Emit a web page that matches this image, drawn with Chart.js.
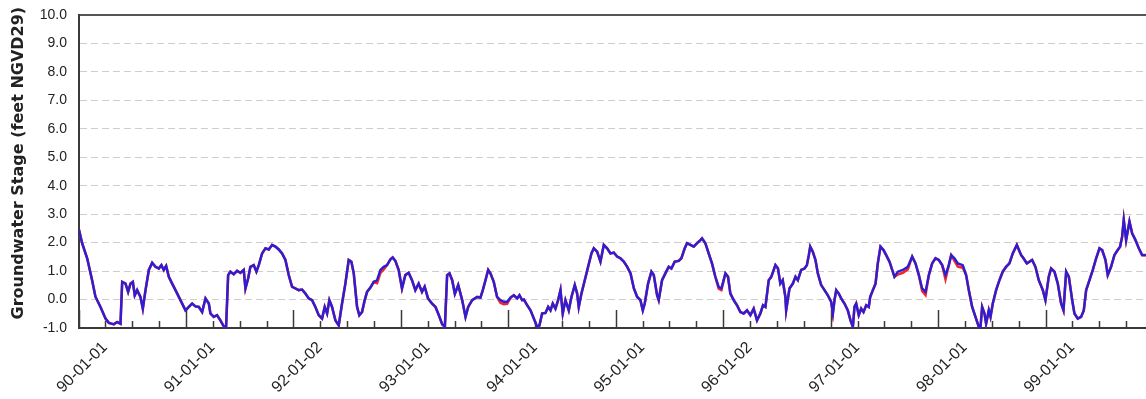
<!DOCTYPE html>
<html><head><meta charset="utf-8">
<script src="https://cdn.jsdelivr.net/npm/chart.js@4.4.1/dist/chart.umd.min.js"></script>
<style>html,body{margin:0;padding:0;background:#fff;overflow:hidden}#wrap{width:1146px;height:399px}</style>
</head><body><div id="wrap"><canvas id="c" width="1146" height="399"></canvas></div>
<script>
const xTickLabels = ['90-01-01','91-01-01','92-01-02','93-01-01','94-01-01','95-01-01','96-01-02','97-01-01','98-01-01','99-01-01'];
const yTickLabels = ['-1.0','0.0','1.0','2.0','3.0','4.0','5.0','6.0','7.0','8.0','9.0','10.0'];
const yAxisTitle = 'Groundwater Stage (feet NGVD29)';

// decimal years
const dates = [
1990.000,1990.029,1990.076,1990.122,1990.153,1990.200,1990.247,1990.278,1990.324,1990.355,
1990.386,1990.402,1990.433,1990.457,1990.479,1990.501,1990.519,1990.541,1990.572,1990.594,
1990.619,1990.650,1990.681,1990.712,1990.743,1990.767,1990.789,1990.811,1990.836,1990.867,
1990.898,1990.944,1990.991,1991.022,1991.053,1991.084,1991.115,1991.146,1991.177,1991.208,
1991.223,1991.254,1991.285,1991.316,1991.347,1991.369,1991.388,1991.409,1991.440,1991.471,
1991.502,1991.533,1991.549,1991.574,1991.595,1991.626,1991.651,1991.673,1991.704,1991.735,
1991.766,1991.797,1991.828,1991.859,1991.890,1991.921,1991.952,1991.983,1992.014,1992.045,
1992.076,1992.107,1992.138,1992.169,1992.200,1992.231,1992.262,1992.287,1992.309,1992.330,
1992.355,1992.386,1992.417,1992.448,1992.479,1992.510,1992.535,1992.557,1992.588,1992.609,
1992.634,1992.659,1992.681,1992.712,1992.743,1992.774,1992.805,1992.836,1992.867,1992.898,
1992.919,1992.944,1992.975,1993.006,1993.037,1993.068,1993.099,1993.130,1993.161,1993.192,
1993.217,1993.248,1993.285,
1993.318,1993.349,1993.380,1993.405,1993.426,1993.448,1993.473,1993.498,1993.529,1993.566,
1993.597,1993.622,1993.659,1993.705,1993.736,1993.758,1993.783,1993.808,1993.829,1993.860,
1993.891,1993.922,1993.953,1993.984,1994.016,1994.047,1994.078,1994.099,1994.124,1994.140,
1994.171,1994.202,1994.233,1994.264,1994.285,1994.310,1994.341,1994.366,1994.388,1994.409,
1994.434,1994.459,1994.481,1994.502,1994.527,1994.558,1994.583,1994.614,1994.636,1994.651,
1994.676,1994.707,1994.738,1994.769,1994.791,1994.822,1994.853,1994.884,1994.915,1994.946,
1994.977,1995.008,1995.039,1995.071,1995.102,1995.133,1995.164,1995.195,1995.225,1995.247,
1995.265,1995.296,1995.327,1995.349,1995.380,1995.395,1995.426,1995.457,1995.488,1995.513,
1995.544,1995.581,1995.606,1995.637,1995.659,1995.690,1995.721,1995.752,1995.783,1995.798,
1995.829,1995.860,1995.891,1995.922,1995.953,1995.978,1996.016,1996.040,1996.062,1996.093,
1996.124,1996.155,1996.186,1996.217,1996.248,1996.279,1996.310,1996.341,1996.366,1996.388,
1996.419,1996.443,1996.481,1996.505,1996.527,1996.549,1996.574,
1996.581,1996.612,1996.643,1996.668,1996.690,1996.721,1996.752,1996.774,1996.792,1996.805,
1996.829,1996.854,1996.876,1996.907,1996.938,1996.969,1997.000,1997.016,1997.031,1997.047,
1997.071,1997.093,1997.124,1997.155,1997.180,1997.202,1997.217,1997.233,1997.257,1997.279,
1997.301,1997.326,1997.350,1997.363,1997.388,1997.413,1997.434,1997.459,1997.487,1997.512,
1997.543,1997.589,1997.620,1997.667,1997.713,1997.754,1997.785,1997.816,1997.847,1997.878,
1997.909,1997.940,1997.971,1998.002,1998.033,1998.064,1998.095,1998.117,1998.148,1998.179,
1998.225,1998.256,1998.281,1998.312,1998.343,1998.374,1998.390,1998.405,1998.427,1998.442,
1998.467,1998.483,1998.504,1998.535,1998.566,1998.597,1998.628,1998.659,1998.690,1998.728,
1998.768,1998.790,1998.821,1998.870,1998.901,1998.932,1998.970,1998.994,1999.025,1999.047,
1999.078,1999.109,1999.140,1999.162,1999.187,1999.212,1999.243,1999.264,1999.295,1999.326,
1999.351,1999.373,1999.404,1999.435,1999.466,1999.497,1999.522,1999.553,1999.574,1999.605,
1999.636,1999.667,1999.689,1999.708,1999.723,1999.745,1999.776,1999.801,1999.832,1999.863,
1999.894,1999.930
];

// blue series (drawn on top)
const stageBlue = [
2.45,1.98,1.45,0.68,0.10,-0.26,-0.67,-0.82,-0.87,-0.79,
-0.85,0.62,0.56,0.27,0.56,0.62,0.15,0.33,0.09,-0.32,
0.33,1.04,1.29,1.15,1.09,1.21,1.04,1.18,0.80,0.56,
0.33,-0.02,-0.38,-0.26,-0.14,-0.24,-0.26,-0.44,0.04,-0.14,
-0.49,-0.61,-0.55,-0.73,-0.94,-0.96,0.86,0.98,0.89,1.01,
0.94,1.04,0.39,0.74,1.15,1.21,0.98,1.21,1.62,1.80,
1.76,1.92,1.86,1.76,1.62,1.39,0.86,0.45,0.39,0.33,
0.35,0.21,0.04,-0.02,-0.26,-0.55,-0.67,-0.26,-0.49,-0.02,
-0.26,-0.73,-0.91,-0.14,0.56,1.39,1.33,0.92,-0.26,-0.55,
-0.44,-0.02,0.27,0.42,0.62,0.68,1.04,1.15,1.21,1.41,
1.48,1.36,1.04,0.39,0.86,0.94,0.68,0.33,0.56,0.27,
0.45,0.04,-0.14,
-0.26,-0.55,-0.87,-0.96,0.86,0.92,0.68,0.20,0.51,-0.02,
-0.61,-0.26,-0.02,0.09,0.07,0.33,0.68,1.04,0.92,0.62,
0.09,-0.02,-0.08,-0.08,0.07,0.15,0.04,0.15,-0.02,0.00,
-0.20,-0.38,-0.67,-0.96,-0.91,-0.49,-0.47,-0.26,-0.38,-0.14,
-0.32,-0.02,0.33,-0.49,-0.02,-0.38,0.09,0.51,0.21,-0.26,
0.21,0.68,1.15,1.62,1.80,1.68,1.33,1.92,1.80,1.62,
1.65,1.51,1.45,1.33,1.15,0.92,0.39,0.09,-0.02,-0.38,
-0.14,0.56,0.98,0.86,0.15,-0.02,0.68,0.92,1.15,1.09,
1.33,1.36,1.45,1.80,1.98,1.92,1.86,1.98,2.09,2.15,
1.98,1.62,1.27,0.80,0.45,0.39,0.92,0.80,0.21,-0.02,
-0.20,-0.44,-0.49,-0.38,-0.55,-0.32,-0.73,-0.49,-0.20,-0.26,
0.68,0.80,1.21,1.09,0.56,0.68,0.09,
-0.38,0.39,0.56,0.80,0.68,1.04,1.09,1.21,1.56,1.86,
1.68,1.39,0.92,0.51,0.33,0.15,-0.08,-0.49,-0.02,0.33,
0.21,0.04,-0.14,-0.38,-0.73,-0.96,-0.26,-0.14,-0.55,-0.32,
-0.44,-0.20,-0.26,0.09,0.33,0.56,1.27,1.86,1.74,1.56,
1.33,0.80,0.98,1.04,1.15,1.51,1.27,0.86,0.39,0.27,
0.86,1.27,1.45,1.39,1.21,0.86,1.21,1.56,1.45,1.27,
1.21,0.86,0.33,-0.26,-0.61,-0.96,-0.96,-0.26,-0.49,-0.85,
-0.38,-0.61,-0.14,0.33,0.68,0.98,1.15,1.27,1.62,1.92,
1.56,1.45,1.27,1.39,1.15,0.68,0.33,-0.02,0.80,1.09,
0.98,0.56,-0.14,-0.38,0.98,0.80,-0.02,-0.49,-0.67,-0.61,
-0.38,0.33,0.68,1.04,1.45,1.80,1.74,1.39,0.86,1.15,
1.56,1.74,1.86,2.21,2.80,2.09,2.74,2.33,2.09,1.80,
1.56,1.56
];

// red series (drawn underneath)
const stageRed = [
2.45,1.98,1.45,0.68,0.10,-0.26,-0.67,-0.82,-0.87,-0.79,
-0.85,0.62,0.56,0.27,0.56,0.62,0.15,0.33,0.09,-0.32,
0.33,1.04,1.29,1.15,1.09,1.21,1.04,1.18,0.80,0.56,
0.33,-0.02,-0.38,-0.26,-0.14,-0.24,-0.26,-0.44,0.04,-0.14,
-0.49,-0.61,-0.55,-0.73,-0.94,-0.96,0.86,0.98,0.89,1.01,
0.94,1.04,0.39,0.74,1.15,1.21,0.98,1.21,1.62,1.80,
1.76,1.92,1.86,1.76,1.62,1.39,0.86,0.45,0.39,0.33,
0.35,0.21,0.04,-0.02,-0.26,-0.55,-0.67,-0.26,-0.49,-0.02,
-0.26,-0.73,-0.91,-0.14,0.56,1.39,1.33,0.92,-0.26,-0.55,
-0.44,-0.02,0.27,0.42,0.62,0.58,0.94,1.06,1.21,1.41,
1.48,1.36,1.04,0.39,0.86,0.94,0.68,0.33,0.56,0.27,
0.45,0.04,-0.14,
-0.26,-0.55,-0.87,-0.96,0.86,0.92,0.68,0.20,0.51,-0.02,
-0.61,-0.26,-0.02,0.09,0.07,0.33,0.68,1.04,0.92,0.62,
0.09,-0.11,-0.16,-0.15,0.07,0.15,0.04,0.15,-0.02,0.00,
-0.20,-0.38,-0.67,-0.96,-0.91,-0.49,-0.47,-0.26,-0.38,-0.14,
-0.32,-0.02,0.33,-0.49,-0.02,-0.38,0.09,0.51,0.21,-0.26,
0.21,0.68,1.15,1.62,1.80,1.68,1.33,1.92,1.80,1.62,
1.65,1.51,1.45,1.33,1.15,0.92,0.39,0.09,-0.02,-0.38,
-0.14,0.56,0.98,0.86,0.15,-0.02,0.68,0.92,1.15,1.09,
1.33,1.36,1.45,1.80,1.98,1.92,1.86,1.98,2.09,2.15,
1.98,1.62,1.27,0.80,0.38,0.33,0.92,0.80,0.21,-0.02,
-0.20,-0.44,-0.49,-0.38,-0.55,-0.32,-0.73,-0.49,-0.20,-0.26,
0.68,0.80,1.21,1.09,0.56,0.68,0.09,
-0.38,0.39,0.56,0.80,0.68,1.04,1.09,1.21,1.56,1.86,
1.68,1.39,0.92,0.51,0.33,0.15,-0.08,-0.49,-0.02,0.33,
0.21,0.04,-0.14,-0.38,-0.73,-0.96,-0.26,-0.14,-0.55,-0.32,
-0.44,-0.20,-0.26,0.09,0.33,0.56,1.27,1.86,1.74,1.56,
1.33,0.80,0.88,0.94,1.06,1.51,1.27,0.86,0.30,0.16,
0.86,1.27,1.45,1.39,1.21,0.72,1.21,1.56,1.36,1.16,
1.12,0.86,0.33,-0.26,-0.61,-0.96,-0.96,-0.26,-0.49,-0.85,
-0.38,-0.61,-0.14,0.33,0.68,0.98,1.15,1.27,1.62,1.92,
1.56,1.45,1.27,1.39,1.15,0.68,0.33,-0.02,0.80,1.09,
0.98,0.56,-0.14,-0.38,0.98,0.80,-0.02,-0.49,-0.67,-0.61,
-0.38,0.33,0.68,1.04,1.45,1.80,1.74,1.39,0.86,1.15,
1.56,1.74,1.86,2.21,2.80,2.09,2.74,2.33,2.09,1.80,
1.56,1.56
];

const X_MIN = 1990, X_MAX = 1999.93;
const quarterTicks = [];
for (let q = 0; q < 40; q++) quarterTicks.push(X_MIN + q * 0.25);

const isYear = v => Math.abs(v - Math.round(v)) < 1e-6;

new Chart(document.getElementById('c'), {
  type: 'line',
  data: {
    datasets: [
      { label: 'Stage', data: dates.map((x, i) => ({ x, y: stageBlue[i] })),
        borderColor: '#2a1fd4', borderWidth: 2.4, pointRadius: 0, tension: 0, order: 0 },
      { label: 'Stage 2', data: dates.map((x, i) => ({ x, y: stageRed[i] })),
        borderColor: '#f2262a', borderWidth: 2.6, pointRadius: 0, tension: 0, order: 1 }
    ]
  },
  options: {
    responsive: false, animation: false, devicePixelRatio: 1,
    layout: { padding: { top: 15, right: 0, bottom: 0, left: 0 } },
    plugins: { legend: { display: false }, tooltip: { enabled: false } },
    scales: {
      x: {
        type: 'linear', min: X_MIN, max: X_MAX,
        afterBuildTicks: s => { s.ticks = quarterTicks.map(v => ({ value: v })); },
        afterFit: s => { s.height = 71; s.paddingRight = 0; },
        grid: {
          drawOnChartArea: false, drawTicks: true, tickLength: -18,
          tickColor: '#3a3a3a', tickWidth: 1.5,
          tickBorderDash: c => (c.tick && isYear(c.tick.value)) ? [] : [8, 60]
        },
        border: { color: '#3a3a3a', width: 2 },
        ticks: {
          autoSkip: false, minRotation: 45, maxRotation: 45, padding: 28, labelOffset: 26,
          color: '#222', font: { family: 'Liberation Sans, Arial, sans-serif', size: 16 },
          callback: v => isYear(v) ? xTickLabels[Math.round(v) - X_MIN] : ''
        }
      },
      y: {
        min: -1, max: 10,
        afterBuildTicks: s => { const t = []; for (let k = 0; k <= 22; k++) t.push({ value: -1 + k * 0.5 }); s.ticks = t; },
        afterFit: s => { s.width = 79; s.paddingTop = 0; s.paddingBottom = 0; },
        grid: {
          drawTicks: false,
          color: c => { const v = c.tick ? c.tick.value : null; if (v === 10) return '#555'; return isYear(v) ? '#cdcdcd' : '#dcdcdc'; },
          lineWidth: c => (c.tick && c.tick.value === 10) ? 2 : 1
        },
        border: {
          color: '#3a3a3a', width: 2,
          dash: c => { const v = c.tick ? c.tick.value : undefined; if (v === undefined || v === 10) return []; return isYear(v) ? [7, 4] : [1, 3]; }
        },
        ticks: {
          padding: 12, color: '#222', font: { family: 'Liberation Sans, Arial, sans-serif', size: 14 },
          callback: v => isYear(v) ? yTickLabels[Math.round(v) + 1] : ''
        },
        title: {
          display: true, text: '   ' + yAxisTitle, color: '#222',
          font: { family: 'DejaVu Sans, sans-serif', size: 16, weight: 'bold' },
          padding: { top: 9, bottom: 0 }
        }
      }
    }
  }
});
</script>
</body></html>
